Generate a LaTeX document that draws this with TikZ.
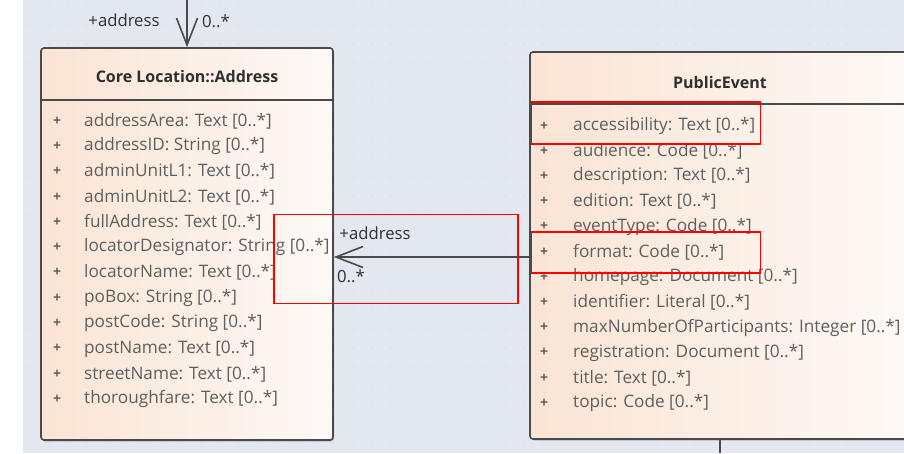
\documentclass[tikz,border=0pt]{standalone}
\usepackage{fontspec}
\setmainfont{Open Sans}
\usetikzlibrary{arrows.meta,shadows}
\definecolor{canvas}{HTML}{E3E7EF}
\definecolor{griddot}{HTML}{DADEE7}
\definecolor{boxleft}{HTML}{FAE4D4}
\definecolor{boxright}{HTML}{FDF9F6}
\definecolor{edge}{HTML}{4A4A4A}
\definecolor{attr}{HTML}{5E6060}
\definecolor{titletext}{HTML}{303030}
\tikzset{
  x=1pt, y=-1pt,
  classbox/.style={rectangle, rounded corners=3pt, draw=edge, line width=1.6pt,
    shading=axis, left color=boxleft, right color=boxright, shading angle=90,
    drop shadow={shadow xshift=1.2pt, shadow yshift=-1.5pt, fill=gray!70, opacity=0.7}},
  classtitle/.style={font=\fontsize{16}{18}\selectfont\bfseries, text=titletext},
  attrtext/.style={anchor=west, inner sep=0pt, font=\fontsize{17.2}{19}\selectfont, text=attr},
  plus/.style={inner sep=0pt, font=\fontsize{14}{16}\selectfont\bfseries, text=attr},
  roletext/.style={inner sep=0pt, font=\fontsize{16.7}{19}\selectfont, text=titletext},
  assoc/.style={draw=edge, line width=1.6pt,
    -{Straight Barb[length=27pt, width=21pt, line width=1.6pt]}},
  highlight/.style={draw=red, line width=1.5pt, rectangle, inner sep=0pt},
}
\begin{document}
\begin{tikzpicture}
\useasboundingbox (0,0) rectangle (904,453);
\fill[white] (0,0) rectangle (904,453);
\fill[canvas] (23,0) rectangle (904,453);
% faint dotted grid on the canvas
\foreach \gx in {30,49,...,904}
  \foreach \gy in {6,25,...,453}
    \fill[griddot] (\gx,\gy) circle (0.8pt);

% ---- Core Location::Address ----
\node[classbox, minimum width=292pt, minimum height=392pt] (addr) at (187,244) {};
\draw[edge, line width=1.8pt] (41,100) -- (333,100);
\node[classtitle] (addrT) at (187,77) {Core Location::Address};
\foreach \t [count=\i] in {addressArea: Text [0..*], addressID: String [0..*],
  adminUnitL1: Text [0..*], adminUnitL2: Text [0..*], fullAddress: Text [0..*],
  locatorDesignator: String [0..*], locatorName: Text [0..*], poBox: String [0..*],
  postCode: String [0..*], postName: Text [0..*], streetName: Text [0..*],
  thoroughfare: Text [0..*]} {
  \node[plus] (ap\i) at (57,{121+25.3*(\i-1)}) {+};
  \node[attrtext] (aa\i) at (84,{121+25.3*(\i-1)}) {\t};
}

% ---- PublicEvent ----
\node[classbox, minimum width=380pt, minimum height=387pt] (pe) at (720,245.5) {};
\draw[edge, line width=1.8pt] (530,104) -- (910,104);
\node[classtitle] (peT) at (720,82) {PublicEvent};
\foreach \t [count=\i] in {accessibility: Text [0..*], audience: Code [0..*],
  description: Text [0..*], edition: Text [0..*], eventType: Code [0..*],
  format: Code [0..*], homepage: Document [0..*], identifier: Literal [0..*],
  maxNumberOfParticipants: Integer [0..*], registration: Document [0..*],
  title: Text [0..*], topic: Code [0..*]} {
  \node[plus] (pp\i) at (544,{126+25.2*(\i-1)}) {+};
  \node[attrtext] (pa\i) at (573,{126+25.2*(\i-1)}) {\t};
}

% ---- associations ----
\coordinate (topend) at (addr.north |- 0,0);
\draw[assoc] (topend) -- (addr.north);
\node[roletext] (topRole) at (124,20) {+address};
\node[roletext] (topMult) at (216,21) {0..*};

\coordinate (peport) at (pe.west |- 0,257);
\draw[assoc] (peport) -- (addr.east |- peport);
\node[roletext] (sideRole) at (375,233) {+address};
\node[roletext] (sideMult) at (351,276) {0..*};

\draw[edge, line width=1.6pt] (pe.south) -- (pe.south |- 0,453);

% ---- highlight frames ----
\node[highlight, minimum width=244pt, minimum height=89pt] (hl1) at (396,259) {};
\node[highlight, minimum width=229pt, minimum height=42pt] (hl2) at (646,123) {};
\node[highlight, minimum width=229pt, minimum height=41pt] (hl3) at (646,252.5) {};
\end{tikzpicture}
\end{document}
